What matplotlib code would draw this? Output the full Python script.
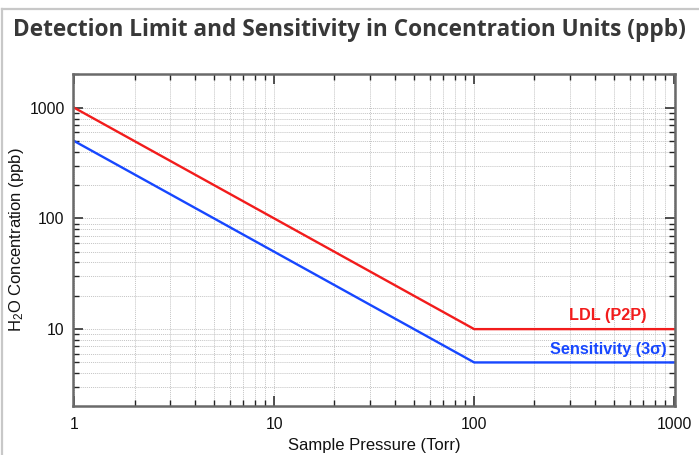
import numpy as np
import matplotlib.pyplot as plt
from matplotlib.ticker import LogLocator, FixedLocator, FixedFormatter, NullFormatter

# data
pressure = [1, 100, 1000]
ldl = [1000, 10, 10]
sensitivity = [500, 5, 5]
x_ticks = [1, 10, 100, 1000]
x_labels = ['1', '10', '100', '1000']
y_ticks = [10, 100, 1000]
y_labels = ['10', '100', '1000']

red = '#f21c1c'
blue = '#1747ff'

plt.rcParams['font.family'] = ['Liberation Sans', 'DejaVu Sans']
plt.rcParams['mathtext.default'] = 'regular'

fig = plt.figure(figsize=(6.99, 4.55), dpi=100)

# card frame (top and left border)
fig.add_artist(plt.Line2D([0.003, 0.003], [0, 1 - 8.5/455], color='#c8c8c8', lw=1.6, transform=fig.transFigure))
fig.add_artist(plt.Line2D([0.003, 1], [1 - 8.5/455, 1 - 8.5/455], color='#c8c8c8', lw=1.6, transform=fig.transFigure))

fig.text(13/699, 1 - 36/455, 'Detection Limit and Sensitivity in Concentration Units (ppb)',
         fontsize=16.3, fontweight='bold', color='#383838', family='Open Sans', va='baseline', ha='left')

ax = fig.add_axes([73/699, 1 - 406/455, (675 - 73)/699, (406 - 74)/455])
ax.set_xscale('log')
ax.set_yscale('log')
ax.set_xlim(0.985, 1010)
ax.set_ylim(2.02, 2020)

ax.plot(pressure, ldl, color=red, lw=1.7)
ax.plot(pressure, sensitivity, color=blue, lw=1.7)

ax.text(731, 11.4, 'LDL (P2P)', color=red, fontweight='bold', fontsize=11.7, ha='right', va='bottom')
ax.text(921, 5.6, 'Sensitivity (3σ)', color=blue, fontweight='bold', fontsize=11.7, ha='right', va='bottom')

ax.xaxis.set_major_locator(FixedLocator(x_ticks))
ax.xaxis.set_major_formatter(FixedFormatter(x_labels))
ax.yaxis.set_major_locator(FixedLocator(y_ticks))
ax.yaxis.set_major_formatter(FixedFormatter(y_labels))
ax.xaxis.set_minor_locator(LogLocator(base=10, subs=np.arange(2, 10), numticks=20))
ax.yaxis.set_minor_locator(LogLocator(base=10, subs=np.arange(2, 10), numticks=20))
ax.xaxis.set_minor_formatter(NullFormatter())
ax.yaxis.set_minor_formatter(NullFormatter())

ax.tick_params(which='both', direction='in', top=True, right=True, color='#222222', labelsize=11.3, labelcolor='#111111')
ax.tick_params(which='major', length=7, width=1.1, pad=6)
ax.tick_params(axis='x', which='major', pad=8)
ax.tick_params(which='minor', length=4, width=1.0)

ax.grid(True, which='both', linestyle=(0, (1, 1)), color='#c4c4c4', linewidth=0.7)
ax.set_axisbelow(True)
for s in ax.spines.values():
    s.set_color('#6a6a6a')
    s.set_linewidth(1.8)

ax.set_xlabel('Sample Pressure (Torr)', fontsize=12, labelpad=4, color='#111111')
ax.set_ylabel('H$_2$O Concentration (ppb)', fontsize=12, color='#111111')
ax.yaxis.set_label_coords(-47/602, 0.5)

plt.savefig('out.png', dpi=100)
